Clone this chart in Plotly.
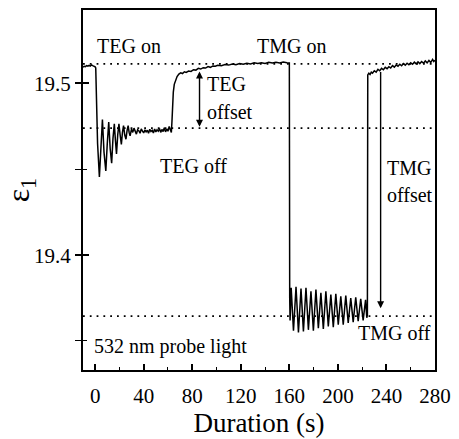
import plotly.graph_objects as go

# ---------------- data ----------------
time_s = [
    -10, -9, -8, -7, -6, -5, -4, -3, -2, -1, 0, 0.5,
    1.2, 2.0, 3.5, 4.6, 6.0, 7.3, 8.8, 10.0, 11.2, 12.4, 13.6, 14.7, 15.8, 16.7, 17.6, 18.6,
    19.6, 20.6, 21.6, 22.5, 23.4, 24.4, 25.4, 26.3, 27.2, 28.0, 28.8,
    30, 31, 32, 33, 34, 35, 36, 37, 38, 39, 40, 41, 42, 43, 44, 45, 46, 47, 48, 49,
    50, 51, 52, 53, 54, 55, 56, 57, 58, 59, 60, 61, 62,
    62.8, 63.3, 63.8, 64.4, 65.2, 66.2, 67.5, 69, 70.5, 72, 73.5, 75, 77, 79, 81, 83, 85, 87, 89,
    91, 93, 95, 97, 99, 101, 104, 107, 110, 113, 116, 119, 122, 125, 128, 131, 134, 137, 140,
    143, 146, 149, 152, 155, 158, 159.8,
    160.0, 160.3, 160.6, 161.5, 163.4, 165.5, 167.5, 169.6, 171.6, 173.7, 175.7, 177.8, 179.8,
    181.9, 183.9, 186.0, 188.0, 190.1, 192.1, 194.2, 196.2, 198.3, 200.3, 202.4, 204.4, 206.5,
    208.5, 210.6, 212.6, 214.7, 216.7, 218.8, 220.8, 222.8, 223.8, 224.3, 224.6,
    225.5, 226.5, 227.5, 228.5, 230, 231.5, 233, 234.5, 236, 237.5, 239, 240.5, 242, 243.5,
    245, 246.5, 248, 249.5, 251, 252.5, 254, 255.5, 257, 258.5, 260, 261.5, 263, 264.5, 266,
    267.5, 269, 270.5, 272, 273.5, 275, 276.5, 278, 279, 280,
]
epsilon_1 = [
    19.5095, 19.5100, 19.5098, 19.5104, 19.5101, 19.5106, 19.5102, 19.5108, 19.5104, 19.5100, 19.5097, 19.5090,
    19.4900, 19.4650, 19.4455, 19.4640, 19.4790, 19.4600, 19.4490, 19.4650, 19.4775, 19.4620, 19.4535, 19.4680,
    19.4765, 19.4670, 19.4590, 19.4700, 19.4765, 19.4700, 19.4645, 19.4715, 19.4755, 19.4700, 19.4675, 19.4725,
    19.4755, 19.4715, 19.4695,
    19.4735, 19.4715, 19.4740, 19.4720, 19.4705, 19.4730, 19.4725, 19.4710, 19.4735, 19.4722, 19.4712, 19.4730,
    19.4718, 19.4728, 19.4710, 19.4733, 19.4720, 19.4727, 19.4712, 19.4735, 19.4718, 19.4730, 19.4722, 19.4738,
    19.4715, 19.4732, 19.4720, 19.4742, 19.4718, 19.4735, 19.4722, 19.4750, 19.4725,
    19.4715, 19.4780, 19.4880, 19.4950, 19.4995, 19.5020, 19.5040, 19.5055, 19.5062, 19.5058, 19.5068, 19.5064,
    19.5072, 19.5070, 19.5080, 19.5078, 19.5088, 19.5084, 19.5092, 19.5090, 19.5098, 19.5094, 19.5102, 19.5100,
    19.5106, 19.5103, 19.5110, 19.5107, 19.5113, 19.5109, 19.5116, 19.5112, 19.5118, 19.5114, 19.5120, 19.5116,
    19.5121, 19.5117, 19.5123, 19.5119, 19.5124, 19.5120, 19.5125, 19.5121, 19.5123,
    19.5120, 19.3750, 19.3620, 19.3810, 19.3560, 19.3815, 19.3550, 19.3805, 19.3555, 19.3810, 19.3565, 19.3790,
    19.3560, 19.3800, 19.3575, 19.3780, 19.3570, 19.3790, 19.3585, 19.3770, 19.3580, 19.3775, 19.3595, 19.3760,
    19.3595, 19.3765, 19.3605, 19.3750, 19.3610, 19.3755, 19.3615, 19.3745, 19.3620, 19.3740, 19.3635, 19.3650,
    19.5050,
    19.5060, 19.5052, 19.5066, 19.5060, 19.5074, 19.5066, 19.5082, 19.5074, 19.5088, 19.5080, 19.5094, 19.5086,
    19.5098, 19.5090, 19.5104, 19.5095, 19.5108, 19.5100, 19.5112, 19.5103, 19.5116, 19.5106, 19.5118, 19.5109,
    19.5121, 19.5112, 19.5124, 19.5114, 19.5126, 19.5116, 19.5128, 19.5118, 19.5131, 19.5120, 19.5134, 19.5122,
    19.5140, 19.5128, 19.5136,
]

level_names = ["TEG/TMG on", "TEG off", "TMG off"]
level_values = [19.5114, 19.4740, 19.3645]

x_ticks = [0, 40, 80, 120, 160, 200, 240, 280]
y_ticks = [19.4, 19.5]

x_range = [-10, 280]
y_range = [19.3331, 19.5428]

# arrows: (x, tail y, head y)
teg_offset_arrow = (86, 19.5078, 19.4748)
tmg_offset_arrow = (235.2, 19.5075, 19.3690)

FONT = "Liberation Serif"

fig = go.Figure()

# dotted reference levels
for lv in level_values:
    fig.add_trace(go.Scatter(
        x=x_range, y=[lv, lv], mode="lines",
        line=dict(color="black", width=1.6, dash="1.8px,5px"),
        hoverinfo="skip", showlegend=False,
    ))

fig.add_trace(go.Scatter(
    x=time_s, y=epsilon_1, mode="lines",
    line=dict(color="black", width=1.5),
    showlegend=False,
))

# invisible trace for the inner tick axis
fig.add_trace(go.Scatter(x=[x_range[0]], y=[y_range[0]], yaxis="y2", mode="markers",
                         marker=dict(opacity=0), hoverinfo="skip", showlegend=False))

ann_font = dict(family=FONT, size=20, color="black")
texts = [
    ("TEG on", 1, 19.5219, "left"),
    ("TMG on", 161.6, 19.5219, "center"),
    ("TEG", 91, 19.4996, "left"),
    ("offset", 91, 19.4831, "left"),
    ("TEG off", 52.2, 19.4519, "left"),
    ("TMG", 239.5, 19.4509, "left"),
    ("offset", 239.5, 19.4348, "left"),
    ("TMG off", 277.5, 19.3547, "right"),
    ("532 nm probe light", -1.8, 19.3468, "left"),
]
for t, x, y, xa in texts:
    fig.add_annotation(x=x, y=y, text=t, showarrow=False, xanchor=xa, yanchor="middle",
                       font=ann_font, borderpad=0)

ax_x, ay_tail, ay_head = teg_offset_arrow
fig.add_annotation(x=ax_x, y=ay_head, ax=ax_x, ay=ay_tail, axref="x", ayref="y",
                   text="", showarrow=True, arrowhead=2, startarrowhead=2,
                   arrowside="end+start", arrowsize=1, startarrowsize=1,
                   arrowwidth=1.4, arrowcolor="black", standoff=0, startstandoff=0)
ax_x, ay_tail, ay_head = tmg_offset_arrow
fig.add_annotation(x=ax_x, y=ay_head, ax=ax_x, ay=ay_tail, axref="x", ayref="y",
                   text="", showarrow=True, arrowhead=2, arrowsize=1,
                   arrowwidth=1.4, arrowcolor="black", standoff=0)

tick_font = dict(family=FONT, size=21, color="black")
fig.update_layout(
    width=459, height=439,
    margin=dict(l=83, r=18, t=8, b=62),
    paper_bgcolor="white", plot_bgcolor="white",
    font=dict(family=FONT, color="black"),
    xaxis=dict(
        range=x_range, tickvals=x_ticks, ticks="inside", ticklen=6, tickwidth=1.5,
        tickcolor="black", showline=True, linewidth=2, linecolor="black", mirror=True,
        showgrid=False, zeroline=False, tickfont=tick_font, ticklabelstandoff=6,
        minor=dict(dtick=20, tick0=0, ticks="inside", ticklen=3, tickwidth=1.2,
                   tickcolor="black", showgrid=False),
        title=dict(text="Duration (s)", font=dict(family=FONT, size=27, color="black"),
                   standoff=4),
    ),
    yaxis=dict(
        range=y_range, tickvals=y_ticks, ticktext=["19.4", "19.5"], ticks="outside",
        ticklen=6, tickwidth=1.5, tickcolor="black", showline=True, linewidth=2,
        linecolor="black", mirror=True, showgrid=False, zeroline=False, tickfont=tick_font,
        minor=dict(dtick=0.05, tick0=19.35, ticks="outside", ticklen=6, tickwidth=1.2,
                   tickcolor="black", showgrid=False),
        title=dict(text="ε<sub>1</sub>", font=dict(family=FONT, size=32, color="black"),
                   standoff=4),
    ),
    yaxis2=dict(
        range=y_range, overlaying="y", side="left", tickvals=y_ticks, ticks="inside",
        ticklen=6, tickwidth=1.5, tickcolor="black", showticklabels=False, showline=False,
        showgrid=False, zeroline=False,
        minor=dict(dtick=0.05, tick0=19.35, ticks="inside", ticklen=4, tickwidth=1.2,
                   tickcolor="black", showgrid=False),
    ),
)

fig.write_html("out.html")
